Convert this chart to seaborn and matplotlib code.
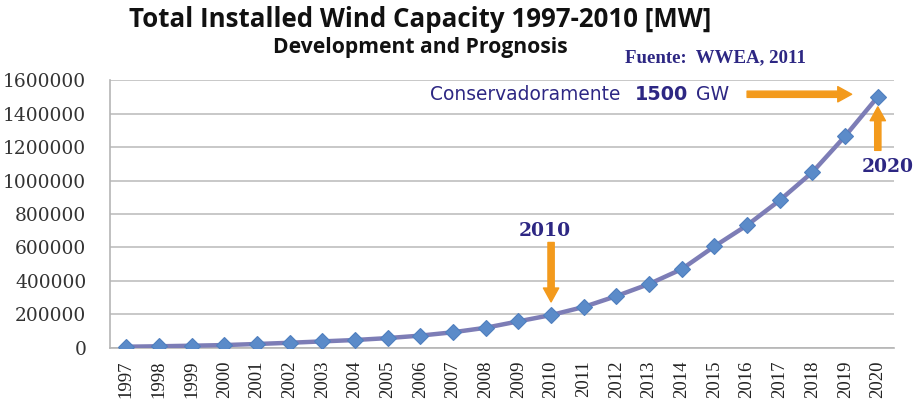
import matplotlib
matplotlib.use("Agg")
import matplotlib.pyplot as plt
import seaborn as sns
import pandas as pd

# Installed wind capacity (MW): historical 1997-2010, projection 2011-2020
years = list(range(1997, 2021))
capacity_mw = [7600, 10200, 13600, 17400, 23900, 31100, 39400, 47600,
               59100, 73900, 93900, 120800, 159000, 196600,
               245000, 310000, 382000, 471000, 607000, 733000,
               882000, 1050000, 1265000, 1500000]
y_ticks = list(range(0, 1600001, 200000))

df = pd.DataFrame({"year": years, "capacity": capacity_mw})

sns.set_theme(style="white")
navy = "#2d2783"
orange = "#f39a1c"

fig = plt.figure(figsize=(9.15, 4.07), dpi=100)
ax = fig.add_axes([0.1202, 0.145, 0.857, 0.6584])

sns.lineplot(data=df, x="year", y="capacity", ax=ax, color="#7d7db6",
             linewidth=3.2, marker="D", markersize=8.5,
             markerfacecolor="#5b8bc9", markeredgecolor="#4f7fbf",
             markeredgewidth=0.8, zorder=3)

ax.set_xlim(years[0] - 0.5, years[-1] + 0.5)
ax.set_ylim(0, 1600000)
ax.set_yticks(y_ticks)
ax.set_yticklabels([str(v) for v in y_ticks], family="DejaVu Serif",
                   fontsize=13.4, color="#333333")
ax.set_xticks(years)
ax.set_xticklabels([str(y) for y in years], rotation=90,
                   family="Liberation Serif", fontsize=13.5, color="#222222")
ax.set_xlabel("")
ax.set_ylabel("")
ax.grid(axis="y", color="#c4c4c4", linewidth=1.3)
ax.grid(axis="x", visible=False)
for side in ["top", "right"]:
    ax.spines[side].set_visible(False)
for side in ["left", "bottom"]:
    ax.spines[side].set_color("#b5b5b5")
    ax.spines[side].set_linewidth(1.2)
ax.tick_params(axis="y", length=4, width=1.2, color="#b5b5b5", pad=13)
ax.tick_params(axis="x", length=0, pad=9)

# Titles and source
fig.text(0.459, 0.953, "Total Installed Wind Capacity 1997-2010 [MW]",
         ha="center", va="center", family="Open Sans", fontweight="bold",
         fontsize=18.6, color="#111111")
fig.text(0.459, 0.883, "Development and Prognosis", ha="center", va="center",
         family="Open Sans", fontweight="bold", fontsize=15.2, color="#111111")
fig.text(0.683, 0.857, "Fuente:  WWEA, 2011", ha="left", va="center",
         family="Liberation Serif", fontweight="bold", fontsize=13.6,
         color=navy)

# Forecast annotation
ax.text(2006.3, 1515000, "Conservadoramente", ha="left", va="center",
        family="DejaVu Sans", fontsize=13.4, color=navy)
ax.text(2012.55, 1515000, "1500", ha="left", va="center",
        family="DejaVu Sans", fontweight="bold", fontsize=13.8, color=navy)
ax.text(2014.45, 1515000, "GW", ha="left", va="center",
        family="DejaVu Sans", fontsize=13.6, color=navy)

arrow = dict(facecolor=orange, edgecolor=orange, width=4.5, headwidth=11,
             headlength=10, shrink=0)
ax.annotate("", xy=(2019.2, 1515000), xytext=(2016.0, 1515000),
            arrowprops=arrow)
ax.annotate("", xy=(2020, 1440000), xytext=(2020, 1180000), arrowprops=arrow)
ax.annotate("", xy=(2010, 275000), xytext=(2010, 630000), arrowprops=arrow)

ax.text(2020.3, 1082000, "2020", ha="center", va="center",
        family="DejaVu Serif", fontweight="bold", fontsize=13.5, color=navy)
ax.text(2009.8, 700000, "2010", ha="center", va="center",
        family="DejaVu Serif", fontweight="bold", fontsize=13.5, color=navy)

fig.savefig("out.png", dpi=100, facecolor="white")
